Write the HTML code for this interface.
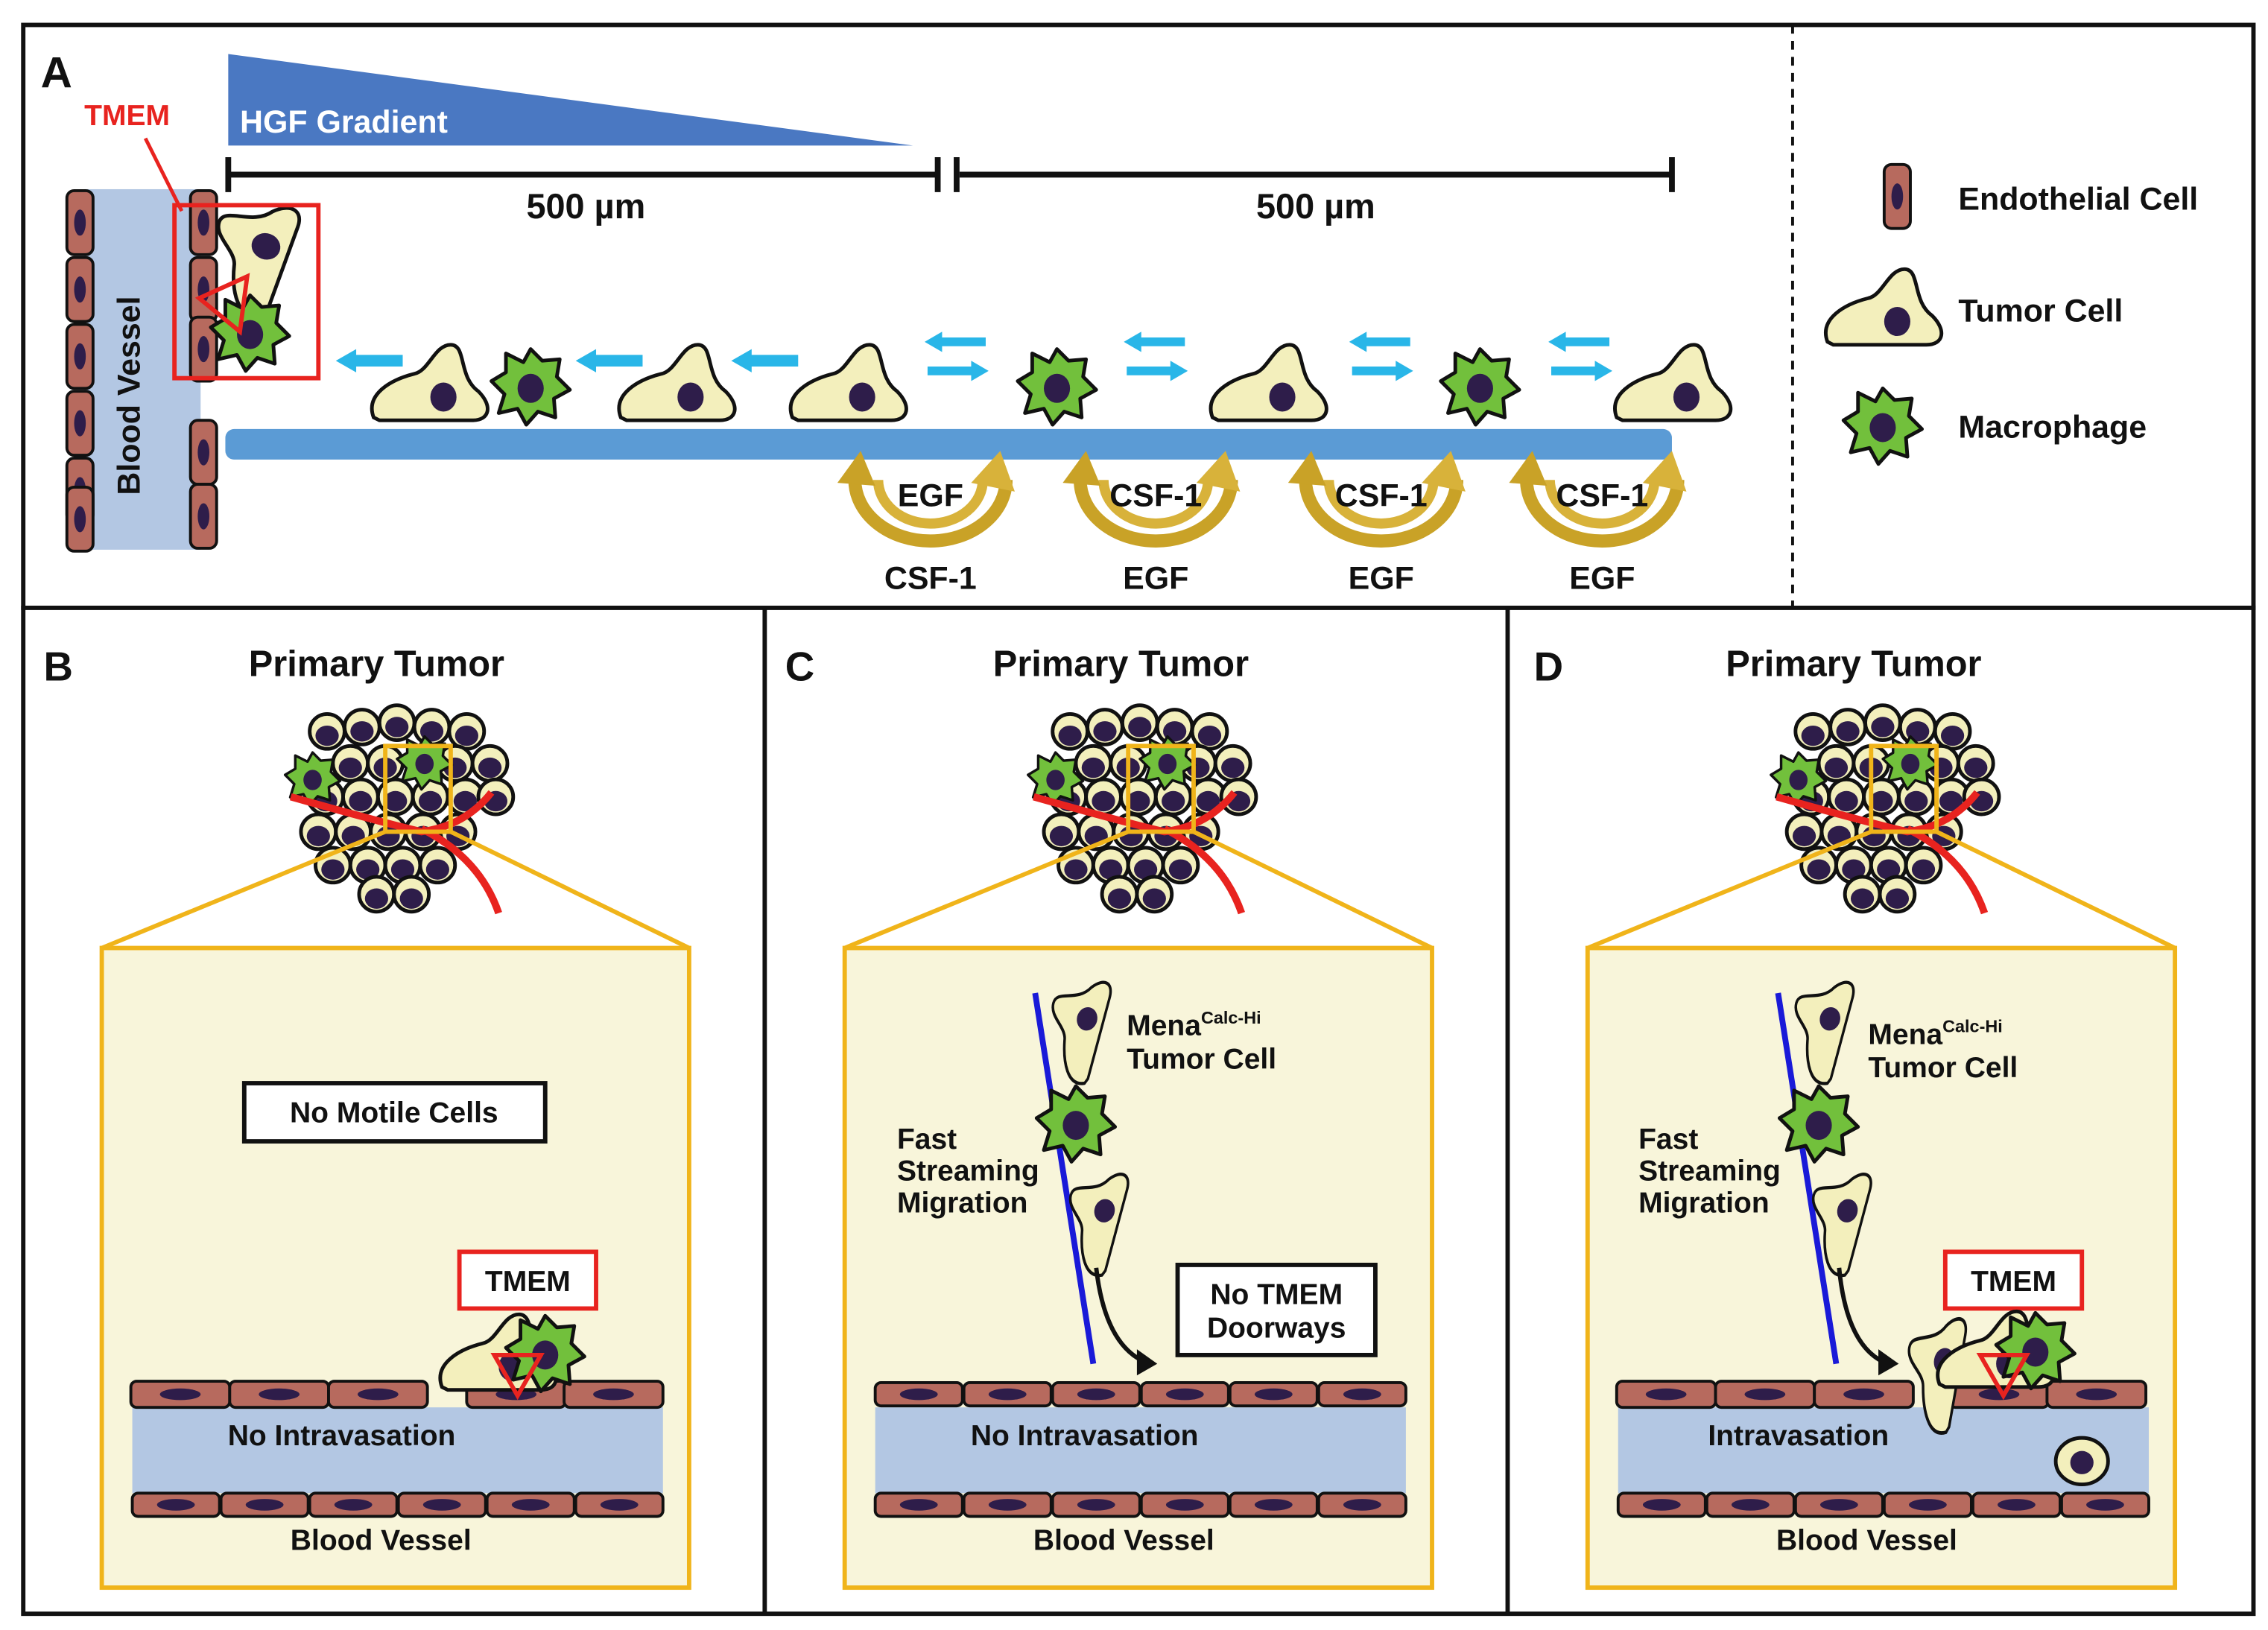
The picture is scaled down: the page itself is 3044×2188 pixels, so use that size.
<!DOCTYPE html>
<html><head><meta charset="utf-8"><style>
html,body{margin:0;padding:0;background:#fff}
svg{display:block}
text{font-family:"Liberation Sans",sans-serif;font-weight:bold;fill:#111}
</style></head><body>
<svg width="3044" height="2188" viewBox="0 0 1560 1121" xmlns="http://www.w3.org/2000/svg">
<defs>
<g id="tc"><path d="M-38,22 C-44,6 -26,-4 -10,-8 C0,-10 4,-28 15,-28 C26,-28 20,-6 34,4 C44,14 42,24 30,24 L-34,24 Z" fill="#f3efbc" stroke="#111" stroke-width="2.5"/><ellipse cx="10" cy="8" rx="9" ry="10" fill="#2e1d4a"/></g>
<g id="mp"><polygon points="0,-25 8,-17 20,-18 18,-6 27,3 16,9 17,22 5,18 -3,27 -9,16 -22,19 -18,6 -27,-3 -17,-9 -17,-22 -5,-16" fill="#72c03c" stroke="#111" stroke-width="2.5" stroke-linejoin="round"/><ellipse cx="0" cy="2" rx="9" ry="10" fill="#2e1d4a"/></g>
<g id="ev"><rect x="-9" y="-22" width="18" height="44" rx="5" fill="#b76a5e" stroke="#111" stroke-width="2"/><ellipse cx="0" cy="0" rx="4" ry="9" fill="#2e1d4a"/></g>
<g id="eh"><rect x="-34" y="-9" width="68" height="18" rx="4" fill="#b76a5e" stroke="#111" stroke-width="2"/><ellipse cx="0" cy="0" rx="14" ry="4" fill="#2e1d4a"/></g>
<g id="eh2"><rect x="-30" y="-8" width="60" height="16" rx="4" fill="#b76a5e" stroke="#111" stroke-width="2"/><ellipse cx="0" cy="0" rx="13" ry="4" fill="#2e1d4a"/></g>
<g id="cc"><circle r="12" fill="#f3efbc" stroke="#111" stroke-width="2.5"/><ellipse cx="0" cy="3" rx="8" ry="7" fill="#2e1d4a"/></g>
<g id="gold"><path d="M-52,-22 A52,42 0 0 0 52,-22" fill="none" stroke="#c9a227" stroke-width="9"/><path d="M-36,-22 A36,30 0 0 0 36,-22" fill="none" stroke="#d8b23a" stroke-width="7"/><polygon points="-64,-20 -48,-42 -38,-18" fill="#c9a227"/><polygon points="28,-20 48,-42 58,-14" fill="#d8b23a"/></g>
<g id="dbl"><polygon points="-22,-10 -10,-17 -10,-13 20,-13 20,-7 -10,-7 -10,-3" fill="#29b6e8"/><polygon points="22,10 10,3 10,7 -20,7 -20,13 10,13 10,17" fill="#29b6e8"/></g>
<g id="la"><polygon points="-24,0 -10,-8 -10,-4 22,-4 22,4 -10,4 -10,8" fill="#29b6e8"/></g>
<g id="tum">
 <use href="#cc" x="225" y="503"/><use href="#cc" x="249" y="500"/><use href="#cc" x="273" y="497"/><use href="#cc" x="297" y="500"/><use href="#cc" x="321" y="503"/>
 <use href="#cc" x="241" y="525"/><use href="#cc" x="265" y="525"/><use href="#cc" x="313" y="525"/><use href="#cc" x="337" y="525"/>
 <use href="#cc" x="224" y="548"/><use href="#cc" x="248" y="548"/><use href="#cc" x="272" y="548"/><use href="#cc" x="296" y="548"/><use href="#cc" x="320" y="548"/><use href="#cc" x="341" y="548"/>
 <use href="#cc" x="219" y="572"/><use href="#cc" x="243" y="572"/><use href="#cc" x="267" y="572"/><use href="#cc" x="291" y="572"/><use href="#cc" x="315" y="572"/>
 <use href="#cc" x="229" y="595"/><use href="#cc" x="253" y="595"/><use href="#cc" x="277" y="595"/><use href="#cc" x="301" y="595"/>
 <use href="#cc" x="259" y="615"/><use href="#cc" x="283" y="615"/>
 <use href="#mp" transform="translate(215,535) scale(0.7)"/><use href="#mp" transform="translate(292,524) scale(0.7)"/>
 <path d="M200,548 Q260,565 290,572 Q320,568 338,545" fill="none" stroke="#e8231f" stroke-width="5"/>
 <path d="M290,570 Q330,590 343,628" fill="none" stroke="#e8231f" stroke-width="5"/>
 <rect x="265" y="513" width="45" height="59" fill="none" stroke="#f0b41a" stroke-width="3"/>
 <line x1="265" y1="572" x2="70" y2="652" stroke="#f0b41a" stroke-width="3"/>
 <line x1="310" y1="572" x2="474" y2="652" stroke="#f0b41a" stroke-width="3"/>
 <rect x="70" y="652" width="404" height="440" fill="#f8f5da" stroke="#f0b41a" stroke-width="3"/>
 <rect x="91" y="968" width="365" height="59" fill="#b3c7e3"/>
 <use href="#eh2" x="121" y="1035"/><use href="#eh2" x="182" y="1035"/><use href="#eh2" x="243" y="1035"/><use href="#eh2" x="304" y="1035"/><use href="#eh2" x="365" y="1035"/><use href="#eh2" x="426" y="1035"/>
 <text x="262" y="1066" font-size="20" text-anchor="middle">Blood Vessel</text>
</g>
</defs>

<rect x="16" y="17" width="1534" height="401" fill="#fff" stroke="#111" stroke-width="3"/>
<rect x="16" y="418" width="1534" height="692" fill="#fff" stroke="#111" stroke-width="3"/>
<line x1="526" y1="418" x2="526" y2="1110" stroke="#111" stroke-width="3"/>
<line x1="1037" y1="418" x2="1037" y2="1110" stroke="#111" stroke-width="3"/>
<line x1="1233" y1="17" x2="1233" y2="418" stroke="#111" stroke-width="2" stroke-dasharray="6,5"/>

<text x="28" y="60" font-size="30">A</text>
<polygon points="157,37 157,100 628,100" fill="#4a78c2"/>
<text x="165" y="91" font-size="22" style="fill:#fff">HGF Gradient</text>
<g stroke="#111" stroke-width="4"><line x1="157" y1="120" x2="645" y2="120"/><line x1="157" y1="108" x2="157" y2="132"/><line x1="645" y1="108" x2="645" y2="132"/><line x1="660" y1="120" x2="1150" y2="120"/><line x1="658" y1="108" x2="658" y2="132"/><line x1="1150" y1="108" x2="1150" y2="132"/></g>
<text x="403" y="150" font-size="24" text-anchor="middle">500 µm</text>
<text x="905" y="150" font-size="24" text-anchor="middle">500 µm</text>
<rect x="58" y="130" width="80" height="248" fill="#b3c7e3"/>
<use href="#ev" x="55" y="153"/><use href="#ev" x="55" y="199"/><use href="#ev" x="55" y="245"/><use href="#ev" x="55" y="291"/><use href="#ev" x="55" y="337"/><use href="#ev" x="55" y="357"/>
<use href="#ev" x="140" y="153"/><use href="#ev" x="140" y="199"/><use href="#ev" x="140" y="240"/><use href="#ev" x="140" y="311"/><use href="#ev" x="140" y="355"/>
<text transform="translate(96,272) rotate(-90)" font-size="22" text-anchor="middle">Blood Vessel</text>
<use href="#tc" transform="translate(172,176) rotate(-70)"/>
<use href="#mp" x="172" y="228"/>
<polygon points="137,205 170,190 165,228" fill="none" stroke="#e8231f" stroke-width="3"/>
<rect x="120" y="141" width="99" height="119" fill="none" stroke="#e8231f" stroke-width="3"/>
<text x="58" y="86" font-size="20" style="fill:#e8231f">TMEM</text>
<line x1="100" y1="95" x2="125" y2="145" stroke="#e8231f" stroke-width="2.5"/>
<rect x="155" y="295" width="995" height="21" rx="6" fill="#5b9bd5"/>
<use href="#tc" x="295" y="265"/><use href="#mp" x="365" y="265"/><use href="#tc" x="465" y="265"/><use href="#tc" x="583" y="265"/>
<use href="#mp" x="727" y="265"/><use href="#tc" x="872" y="265"/><use href="#mp" x="1018" y="265"/><use href="#tc" x="1150" y="265"/>
<use href="#la" x="255" y="248"/><use href="#la" x="420" y="248"/><use href="#la" x="527" y="248"/>
<use href="#dbl" x="658" y="245"/><use href="#dbl" x="795" y="245"/><use href="#dbl" x="950" y="245"/><use href="#dbl" x="1087" y="245"/>
<use href="#gold" x="640" y="352"/><use href="#gold" x="795" y="352"/><use href="#gold" x="950" y="352"/><use href="#gold" x="1102" y="352"/>
<g font-size="22"><text x="640" y="348" text-anchor="middle">EGF</text><text x="795" y="348" text-anchor="middle">CSF-1</text><text x="950" y="348" text-anchor="middle">CSF-1</text><text x="1102" y="348" text-anchor="middle">CSF-1</text>
<text x="640" y="405" text-anchor="middle">CSF-1</text><text x="795" y="405" text-anchor="middle">EGF</text><text x="950" y="405" text-anchor="middle">EGF</text><text x="1102" y="405" text-anchor="middle">EGF</text></g>
<use href="#ev" x="1305" y="135"/><text x="1347" y="144" font-size="22">Endothelial Cell</text>
<use href="#tc" x="1295" y="213"/><text x="1347" y="221" font-size="22">Tumor Cell</text>
<use href="#mp" x="1295" y="292"/><text x="1347" y="301" font-size="22">Macrophage</text>

<text x="30" y="468" font-size="28">B</text>
<text x="259" y="465" font-size="25" text-anchor="middle">Primary Tumor</text>
<use href="#tum"/>
<rect x="168" y="745" width="207" height="40" fill="#fff" stroke="#111" stroke-width="3"/>
<text x="271" y="772" font-size="20" text-anchor="middle">No Motile Cells</text>
<rect x="316" y="861" width="94" height="39" fill="#fff" stroke="#e8231f" stroke-width="3"/>
<text x="363" y="888" font-size="20" text-anchor="middle">TMEM</text>
<use href="#eh" x="124" y="959"/><use href="#eh" x="192" y="959"/><use href="#eh" x="260" y="959"/><use href="#eh" x="355" y="959"/><use href="#eh" x="422" y="959"/>
<use href="#tc" x="342" y="932"/><use href="#mp" x="375" y="930"/>
<polygon points="340,932 372,932 356,960" fill="none" stroke="#e8231f" stroke-width="3"/>
<text x="235" y="994" font-size="20" text-anchor="middle">No Intravasation</text>

<text x="540" y="468" font-size="28">C</text>
<text x="771" y="465" font-size="25" text-anchor="middle">Primary Tumor</text>
<use href="#tum" x="511"/>
<line x1="712" y1="683" x2="752" y2="938" stroke="#1a1ad8" stroke-width="4"/>
<use href="#tc" transform="translate(740,708) rotate(-75) scale(0.9,0.7)"/>
<use href="#mp" x="740" y="772"/>
<use href="#tc" transform="translate(752,840) rotate(-75) scale(0.9,0.7)"/>
<text x="775" y="712" font-size="20">Mena<tspan font-size="12" dy="-8">Calc-Hi</tspan></text>
<text x="775" y="735" font-size="20">Tumor Cell</text>
<text x="617" y="790" font-size="20">Fast</text><text x="617" y="812" font-size="20">Streaming</text><text x="617" y="834" font-size="20">Migration</text>
<path d="M754,872 Q760,925 788,937" fill="none" stroke="#111" stroke-width="3"/><polygon points="796,938 782,928 782,946" fill="#111"/>
<rect x="810" y="870" width="136" height="62" fill="#fff" stroke="#111" stroke-width="3"/>
<text x="878" y="897" font-size="20" text-anchor="middle">No TMEM</text><text x="878" y="920" font-size="20" text-anchor="middle">Doorways</text>
<use href="#eh2" x="632" y="959"/><use href="#eh2" x="693" y="959"/><use href="#eh2" x="754" y="959"/><use href="#eh2" x="815" y="959"/><use href="#eh2" x="876" y="959"/><use href="#eh2" x="937" y="959"/>
<text x="746" y="994" font-size="20" text-anchor="middle">No Intravasation</text>

<text x="1055" y="468" font-size="28">D</text>
<text x="1275" y="465" font-size="25" text-anchor="middle">Primary Tumor</text>
<use href="#tum" x="1022"/>
<line x1="1223" y1="683" x2="1263" y2="938" stroke="#1a1ad8" stroke-width="4"/>
<use href="#tc" transform="translate(1251,708) rotate(-75) scale(0.9,0.7)"/>
<use href="#mp" x="1251" y="772"/>
<use href="#tc" transform="translate(1263,840) rotate(-75) scale(0.9,0.7)"/>
<text x="1285" y="718" font-size="20">Mena<tspan font-size="12" dy="-8">Calc-Hi</tspan></text>
<text x="1285" y="741" font-size="20">Tumor Cell</text>
<text x="1127" y="790" font-size="20">Fast</text><text x="1127" y="812" font-size="20">Streaming</text><text x="1127" y="834" font-size="20">Migration</text>
<path d="M1265,872 Q1270,925 1296,937" fill="none" stroke="#111" stroke-width="3"/><polygon points="1306,938 1292,928 1292,946" fill="#111"/>
<rect x="1338" y="861" width="94" height="39" fill="#fff" stroke="#e8231f" stroke-width="3"/>
<text x="1385" y="888" font-size="20" text-anchor="middle">TMEM</text>
<use href="#eh" x="1146" y="959"/><use href="#eh" x="1214" y="959"/><use href="#eh" x="1282" y="959"/><use href="#eh" x="1375" y="959"/><use href="#eh" x="1442" y="959"/>
<use href="#tc" transform="translate(1330,945) rotate(-80) scale(1,0.7)"/>
<use href="#tc" x="1372" y="930"/><use href="#mp" x="1400" y="928"/>
<polygon points="1362,932 1394,932 1378,960" fill="none" stroke="#e8231f" stroke-width="3"/>
<ellipse cx="1432" cy="1005" rx="18" ry="16" fill="#f3efbc" stroke="#111" stroke-width="2.5"/><ellipse cx="1432" cy="1006" rx="8" ry="8" fill="#2e1d4a"/>
<text x="1237" y="994" font-size="20" text-anchor="middle">Intravasation</text>
</svg>
</body></html>
